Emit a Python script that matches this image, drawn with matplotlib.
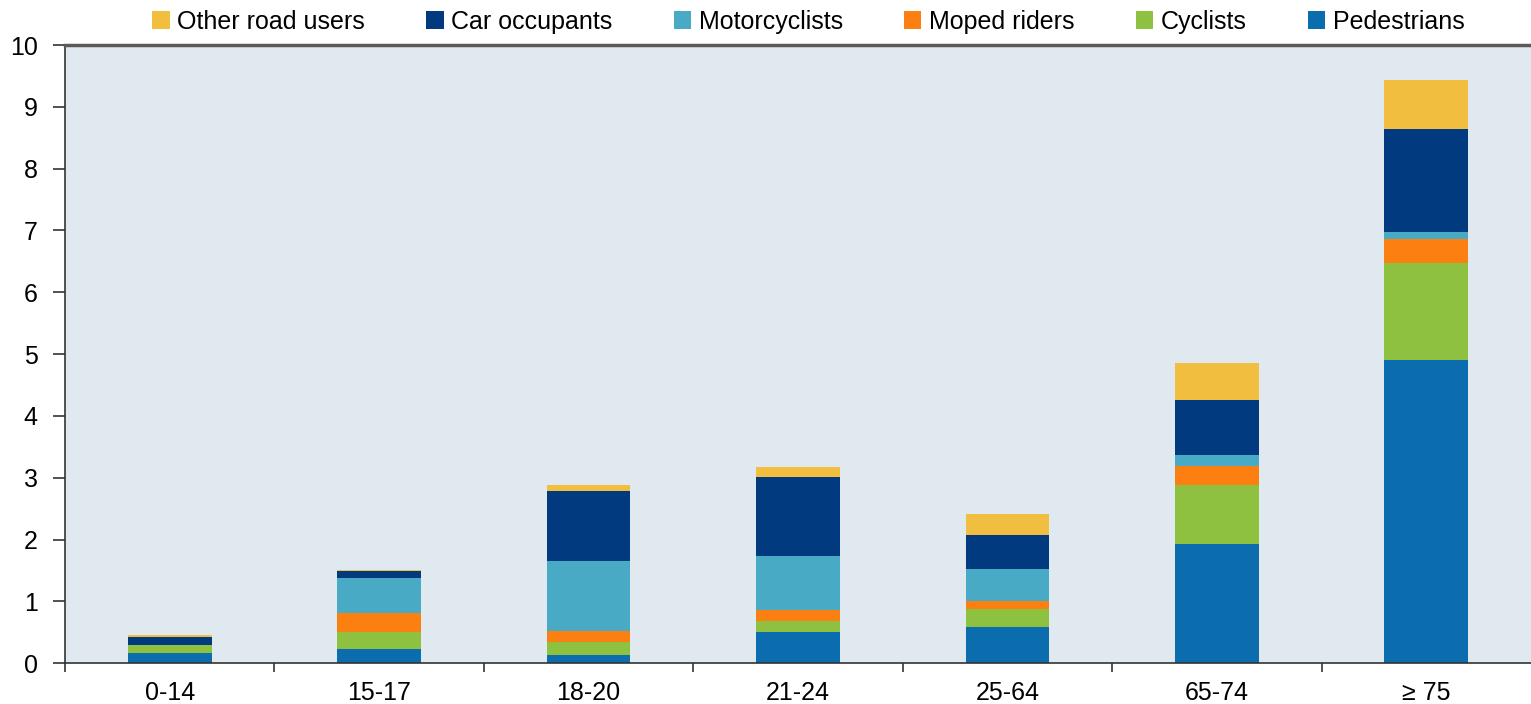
import numpy as np
import matplotlib.pyplot as plt

plt.rcParams['font.family'] = ['Liberation Sans', 'DejaVu Sans']

# data (fatalities per age group, stacked)
age_groups = ['0-14', '15-17', '18-20', '21-24', '25-64', '65-74', '≥ 75']
pedestrians = [0.17, 0.23, 0.13, 0.51, 0.58, 1.92, 4.90]
cyclists = [0.12, 0.28, 0.21, 0.18, 0.30, 0.96, 1.58]
moped_riders = [0.00, 0.30, 0.18, 0.17, 0.12, 0.31, 0.38]
motorcyclists = [0.00, 0.56, 1.14, 0.87, 0.52, 0.18, 0.11]
car_occupants = [0.14, 0.12, 1.12, 1.28, 0.56, 0.88, 1.67]
other_road_users = [0.02, 0.02, 0.10, 0.16, 0.34, 0.60, 0.79]

series = [
    ('Pedestrians', pedestrians, '#0B6DAD'),
    ('Cyclists', cyclists, '#8DC13F'),
    ('Moped riders', moped_riders, '#FC7F12'),
    ('Motorcyclists', motorcyclists, '#48AAC4'),
    ('Car occupants', car_occupants, '#023A80'),
    ('Other road users', other_road_users, '#F2BE40'),
]

fig = plt.figure(figsize=(15.31, 7.04), dpi=100)
ax = fig.add_axes([0.0425, 0.058, 0.9575, 0.878])
ax.set_facecolor('#E1E9F0')

x = np.arange(len(age_groups))
bottom = np.zeros(len(age_groups))
handles = []
for name, vals, col in series:
    h = ax.bar(x, vals, width=0.4, bottom=bottom, color=col, label=name)
    handles.append(h)
    bottom += np.array(vals)

ax.set_xlim(-0.5, len(age_groups) - 0.5)
ax.set_ylim(0, 10)
ax.set_yticks(range(0, 11))
ax.set_xticks(x)
ax.set_xticklabels(age_groups)
ax.set_xticks(np.arange(-0.5, len(age_groups) - 1, 1), minor=True)
ax.tick_params(axis='x', which='major', length=0, labelsize=18, pad=13)
ax.tick_params(axis='x', which='minor', length=6.5, width=1.2, color='#333333', direction='out')
ax.tick_params(axis='y', length=8.6, width=1.2, color='#333333', labelsize=18, pad=11)

for s in ['left', 'bottom']:
    ax.spines[s].set_color('#333333')
    ax.spines[s].set_linewidth(1.2)
ax.spines['top'].set_color('#5a5a5a')
ax.spines['top'].set_linewidth(2.5)
ax.spines['right'].set_visible(False)

ax.legend(handles[::-1], [h.get_label() for h in handles[::-1]],
          loc='lower center', bbox_to_anchor=(0.507, 0.998), ncol=6,
          frameon=False, fontsize=18, handlelength=0.7, handleheight=0.7,
          handletextpad=0.3, columnspacing=2.45, borderaxespad=0.1)

fig.savefig('out.png', dpi=100)
